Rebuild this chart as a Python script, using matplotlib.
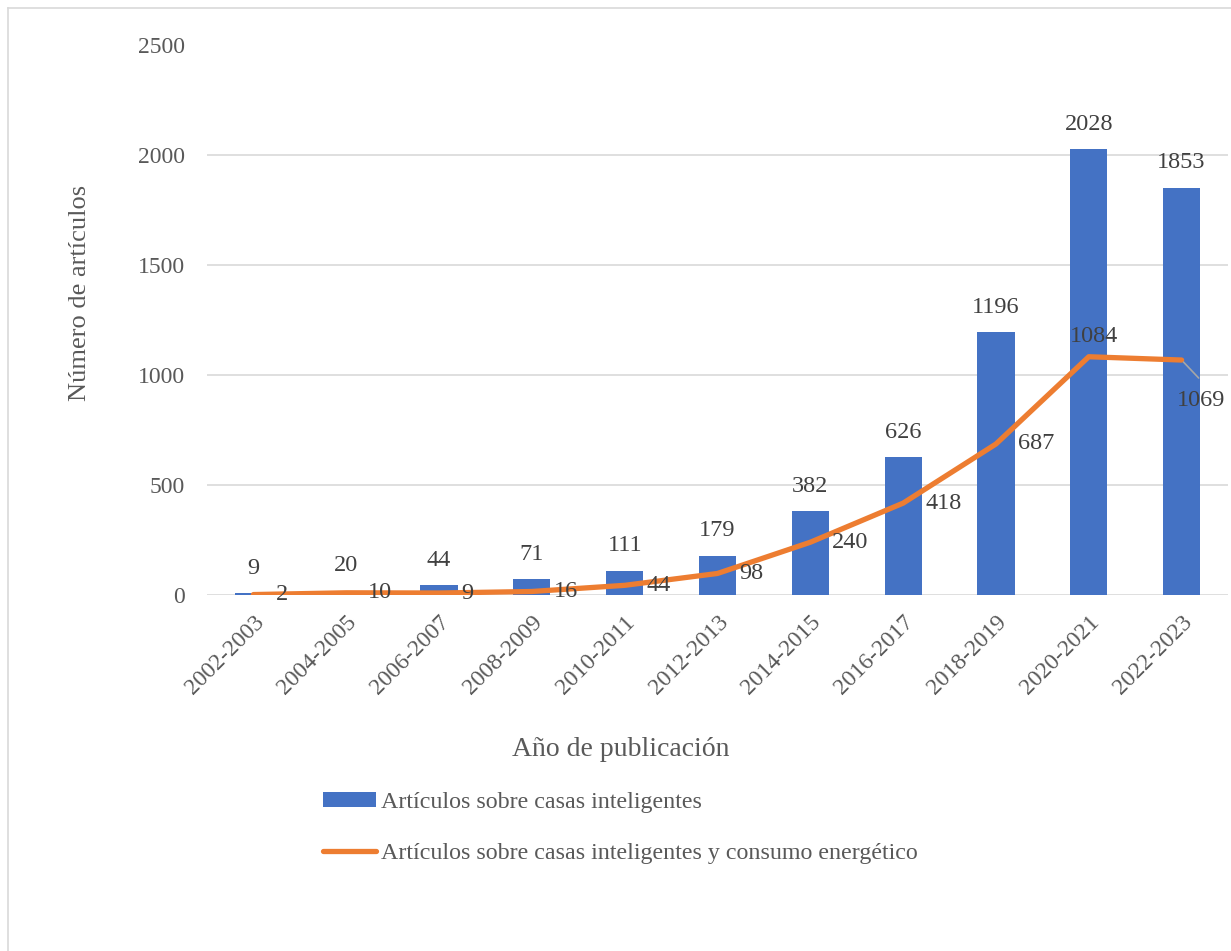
import matplotlib
matplotlib.use("Agg")
import matplotlib.pyplot as plt
from matplotlib.lines import Line2D
from matplotlib.patches import Patch
import numpy as np

plt.rcParams['font.family'] = ['Liberation Serif', 'DejaVu Serif']

categories = ["2002-2003", "2004-2005", "2006-2007", "2008-2009", "2010-2011",
              "2012-2013", "2014-2015", "2016-2017", "2018-2019", "2020-2021", "2022-2023"]
casas = [9, 20, 44, 71, 111, 179, 382, 626, 1196, 2028, 1853]
consumo = [2, 10, 9, 16, 44, 98, 240, 418, 687, 1084, 1069]
yticks = [0, 500, 1000, 1500, 2000, 2500]

W, H = 1231, 951
fig = plt.figure(figsize=(W / 100, H / 100), dpi=100)
ax = fig.add_axes([207 / W, 1 - 595 / H, (1228 - 207) / W, (595 - 45.5) / H])

x = np.arange(len(categories))
blue = "#4472C4"
orange = "#ED7D31"
txt = "#404040"
tick_c = "#595959"
fs = 17
fs_lab = 17.5

ax.bar(x, casas, width=0.4, color=blue, zorder=2)
ax.plot(x, consumo, color=orange, lw=3.8, solid_capstyle='round', solid_joinstyle='round', zorder=3)

ax.set_xlim(-0.5, len(categories) - 0.5)
ax.set_ylim(0, 2500)
ax.set_yticks(yticks)
ax.set_yticklabels([str(v) for v in yticks], fontsize=fs, color=tick_c)
ax.yaxis.grid(True, color="#D9D9D9", lw=1.2, zorder=0)
ax.set_axisbelow(True)
for s in ax.spines.values():
    s.set_visible(False)
ax.tick_params(axis='y', length=0, pad=16)
ax.tick_params(axis='x', length=0, pad=12)
ax.set_xticks(x)
ax.set_xticklabels(categories, rotation=45, ha='right', rotation_mode='anchor',
                   fontsize=fs, color=tick_c)

# bar labels
for xi, v in zip(x, casas):
    ax.annotate(str(v), (xi, v), xytext=(0, 25), textcoords='offset pixels',
                ha='center', va='center', fontsize=fs_lab, color=txt)

# line labels
for i, (xi, v) in enumerate(zip(x, consumo)):
    if i == 9:
        ax.annotate(str(v), (xi, v), xytext=(5, 20), textcoords='offset pixels',
                    ha='center', va='center', fontsize=fs_lab, color=txt)
    elif i == 10:
        ax.annotate(str(v), (xi, v), xytext=(19, -40), textcoords='offset pixels',
                    ha='center', va='center', fontsize=fs_lab, color=txt)
        ax.annotate("", (xi, v), xytext=(19, -20), textcoords='offset pixels',
                    arrowprops=dict(arrowstyle='-', color='#A6A6A6', lw=1.2))
    else:
        ax.annotate(str(v), (xi, v), xytext=(22, 0), textcoords='offset pixels',
                    ha='left', va='center', fontsize=fs_lab, color=txt)

fig.text(80 / W, 1 - 293 / H, "Número de artículos", rotation=90, ha='center', va='center',
         fontsize=19, color=tick_c)
fig.text(621 / W, 1 - 750 / H, "Año de publicación", ha='center', va='center',
         fontsize=20, color=tick_c)

handles = [Patch(facecolor=blue, edgecolor='none'),
           Line2D([0], [0], color=orange, lw=3.8, solid_capstyle='round')]
labels = ["Artículos sobre casas inteligentes",
          "Artículos sobre casas inteligentes y consumo energético"]
leg = fig.legend(handles, labels, loc='upper left', bbox_to_anchor=(323 / W, 1 - 792 / H),
                 frameon=False, fontsize=17.3, handlelength=2.2, handleheight=0.55,
                 handletextpad=0.2, labelspacing=1.25, borderaxespad=0, borderpad=0)
for t in leg.get_texts():
    t.set_color(tick_c)

# outer border (left and top visible)
fig.add_artist(Line2D([7.5 / W, 7.5 / W], [0, 1 - 7.5 / H], color="#D9D9D9", lw=1.2))
fig.add_artist(Line2D([7.5 / W, 1], [1 - 7.5 / H, 1 - 7.5 / H], color="#D9D9D9", lw=1.2))

fig.savefig("out.png", dpi=100, facecolor='white')
